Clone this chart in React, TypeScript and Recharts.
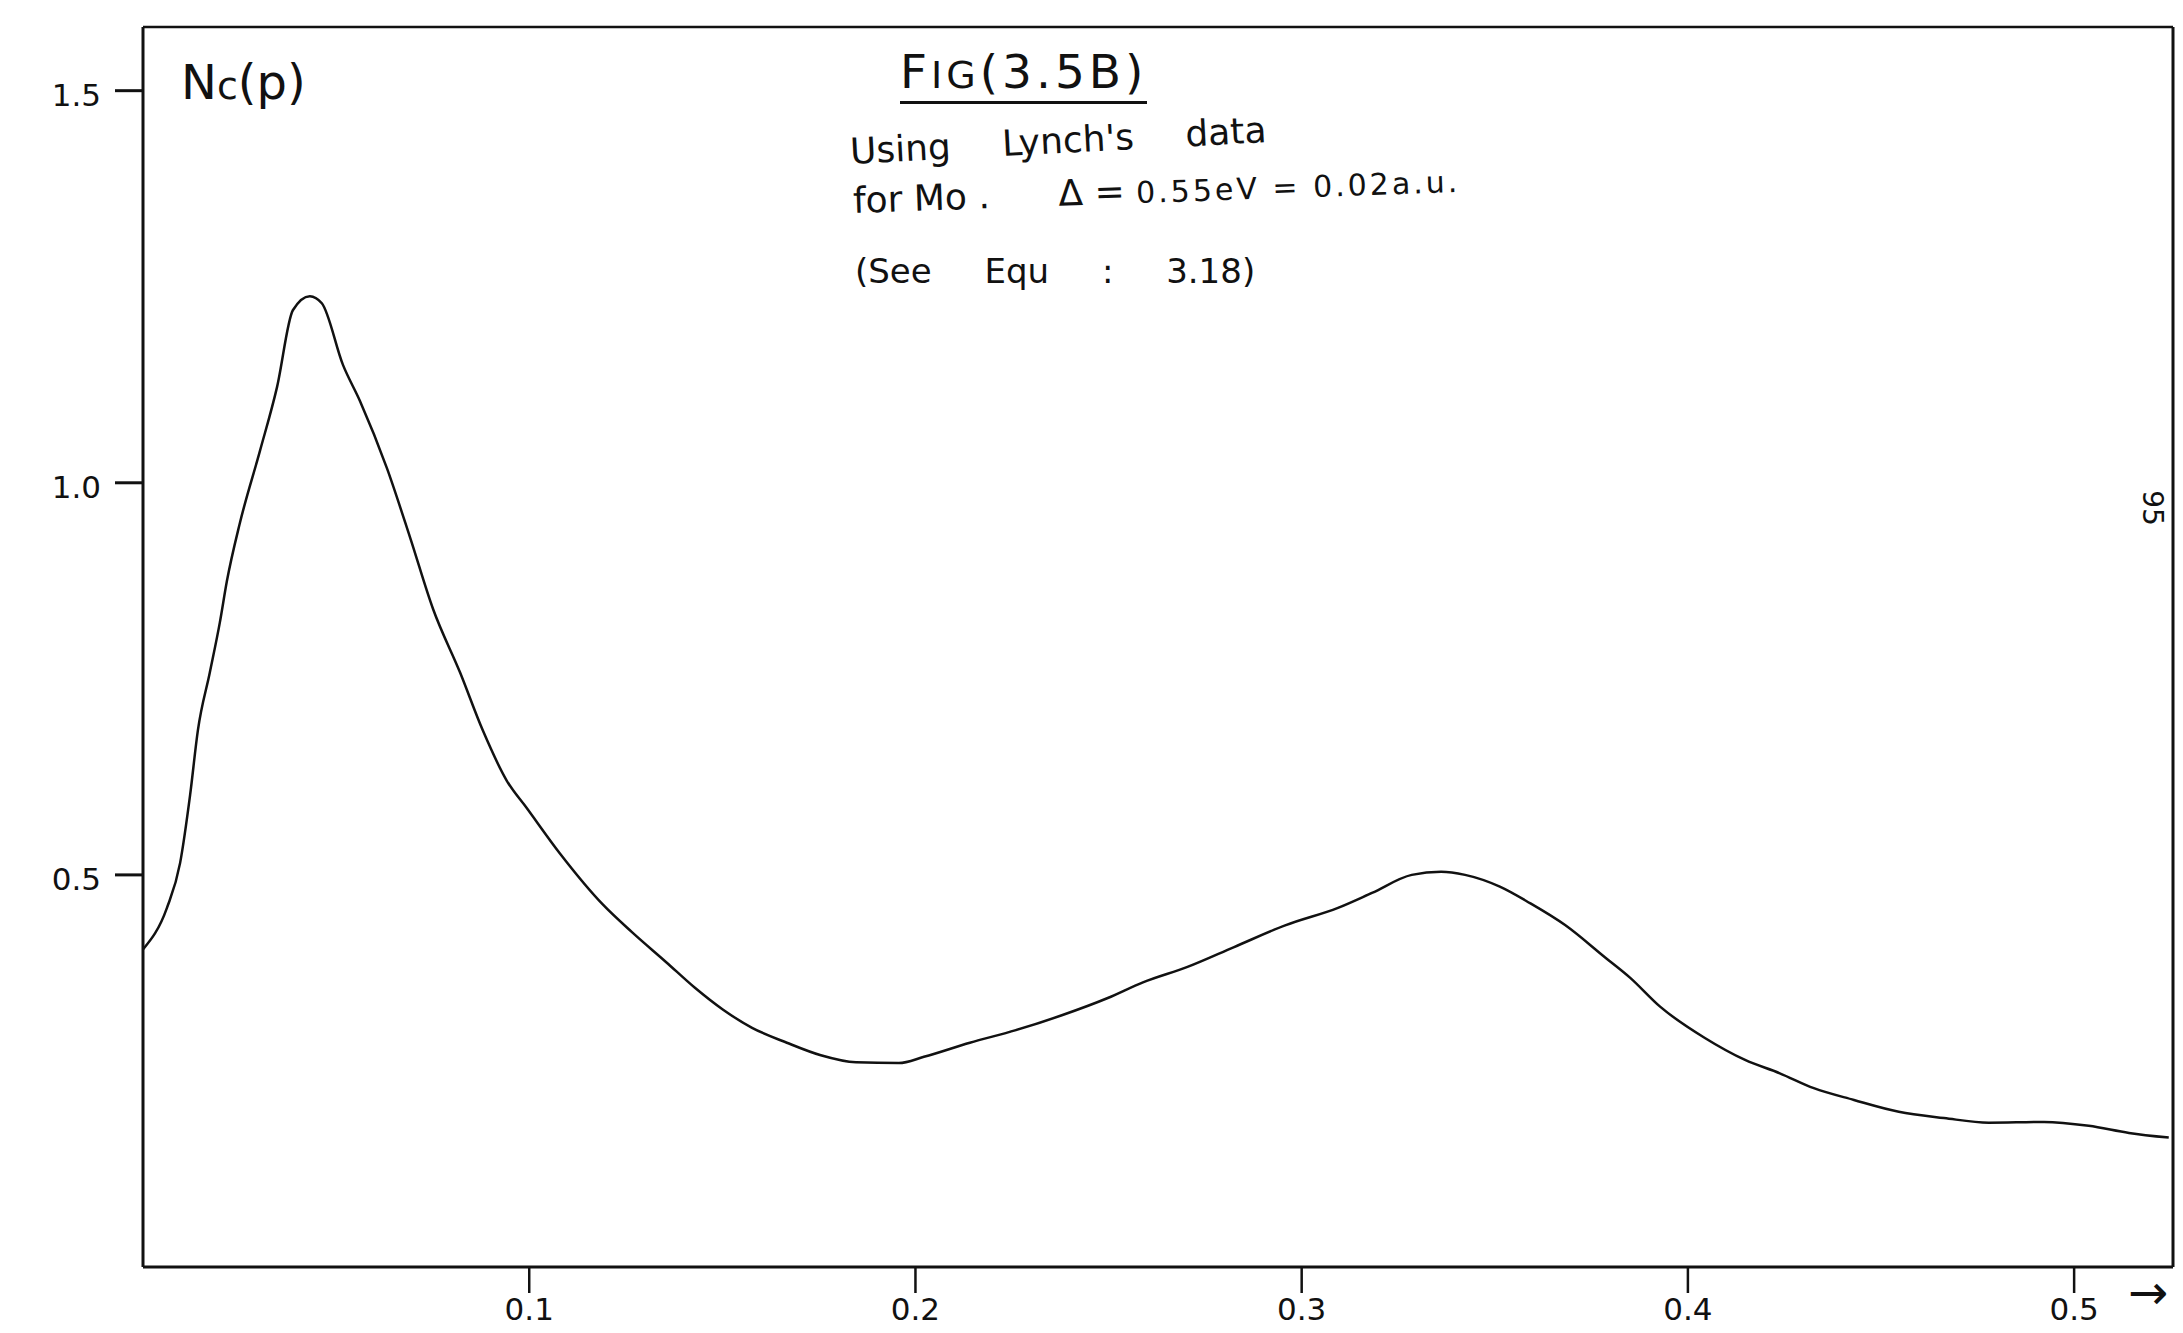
import React from 'react';
import { LineChart, Line, XAxis, YAxis, ReferenceLine } from 'recharts';

// momentum p (a.u.)
const momentum = [
  0, 0.0062, 0.0096, 0.0122, 0.0142, 0.0173, 0.0199, 0.0217, 0.0251, 0.0303,
  0.0347, 0.0388, 0.0432, 0.0463, 0.0518, 0.0562, 0.0632, 0.0691, 0.0751, 0.0821,
  0.088, 0.0942, 0.0994, 0.108, 0.1191, 0.1266, 0.1354, 0.1429, 0.1502, 0.1577,
  0.1667, 0.1755, 0.1846, 0.1957, 0.2022, 0.2141, 0.226, 0.2379, 0.2498, 0.2589,
  0.2706, 0.2825, 0.2959, 0.3094, 0.3182, 0.3285, 0.3361, 0.3423, 0.3513, 0.3591,
  0.3682, 0.3785, 0.385, 0.3928, 0.4044, 0.4148, 0.4238, 0.4326, 0.443, 0.4546,
  0.4663, 0.4779, 0.4922, 0.5038, 0.5142, 0.5245,
];

// Nc(p)
const ncValues = [
  0.405, 0.458, 0.515, 0.602, 0.684, 0.758, 0.822, 0.874, 0.949, 1.041,
  1.122, 1.22, 1.238, 1.229, 1.15, 1.104, 1.018, 0.931, 0.839, 0.758,
  0.684, 0.62, 0.585, 0.527, 0.462, 0.427, 0.389, 0.356, 0.328, 0.305,
  0.286, 0.27, 0.261, 0.26, 0.268, 0.286, 0.302, 0.321, 0.343, 0.363,
  0.383, 0.408, 0.436, 0.458, 0.477, 0.5, 0.504, 0.5, 0.485, 0.464,
  0.436, 0.395, 0.369, 0.332, 0.292, 0.264, 0.247, 0.228, 0.213, 0.198,
  0.19, 0.184, 0.185, 0.18, 0.171, 0.165,
];

const xTicks = [0.1, 0.2, 0.3, 0.4, 0.5];
const xTickLabels = ['0.1', '0.2', '0.3', '0.4', '0.5'];
const yTicks = [0.5, 1.0, 1.5];
const yTickLabels = ['0.5', '1.0', '1.5'];

const X_MAX = 0.5256;
const Y_MAX = 1.5812;
const INK = '#111';
const FONT = '"DejaVu Sans", sans-serif';

const data = momentum.map((p, i) => ({ p, nc: ncValues[i] }));

const XTick = ({ x, y, payload }: any) => (
  <text x={x} y={y} dy={14} textAnchor="middle" dominantBaseline="central"
    fontSize={31} fill={INK} fontFamily={FONT}>
    {xTickLabels[xTicks.indexOf(payload.value)] ?? payload.value}
  </text>
);

const YTick = ({ x, y, payload }: any) => (
  <text x={x} y={y} dy={4} textAnchor="end" dominantBaseline="central"
    fontSize={31} fill={INK} fontFamily={FONT}>
    {yTickLabels[yTicks.indexOf(payload.value)] ?? payload.value}
  </text>
);

export default function App() {
  return (
    <div style={{ position: 'absolute', left: 0, top: 0, width: 2183, height: 1333, background: '#fff', fontFamily: FONT, color: INK }}>
      <LineChart
        width={2183}
        height={1333}
        data={data}
        margin={{ top: 27, right: 10, bottom: 16, left: 43 }}
      >
        <XAxis
          dataKey="p"
          type="number"
          domain={[0, X_MAX]}
          allowDataOverflow
          ticks={xTicks}
          tick={<XTick />}
          tickSize={26}
          tickMargin={2}
          height={50}
          axisLine={{ stroke: INK, strokeWidth: 3 }}
          tickLine={{ stroke: INK, strokeWidth: 2.5 }}
        />
        <YAxis
          type="number"
          domain={[0, Y_MAX]}
          allowDataOverflow
          ticks={yTicks}
          tick={<YTick />}
          tickSize={28}
          tickMargin={14}
          width={100}
          axisLine={{ stroke: INK, strokeWidth: 3 }}
          tickLine={{ stroke: INK, strokeWidth: 3 }}
        />
        <ReferenceLine y={Y_MAX} stroke={INK} strokeWidth={2.5} />
        <ReferenceLine x={X_MAX} stroke={INK} strokeWidth={3} />
        <Line
          type="monotone"
          dataKey="nc"
          stroke={INK}
          strokeWidth={2.5}
          dot={false}
          activeDot={false}
          isAnimationActive={false}
        />
      </LineChart>

      {/* hand-written annotations */}
      <div style={{ position: 'absolute', left: 181, top: 58, fontSize: 48, lineHeight: 1 }}>
        N<span style={{ fontSize: 38 }}>c</span>(p)
      </div>
      <div style={{ position: 'absolute', left: 900, top: 48, fontSize: 47, lineHeight: 1, letterSpacing: 4, borderBottom: `3px solid ${INK}`, paddingBottom: 6 }}>
        F<span style={{ fontSize: 38 }}>IG</span>(3.5B)
      </div>
      <div style={{ position: 'absolute', left: 850, top: 134, fontSize: 36, lineHeight: 1, wordSpacing: 40, transform: 'rotate(-3deg)', transformOrigin: 'left center', whiteSpace: 'nowrap' }}>
        Using Lynch's data
      </div>
      <div style={{ position: 'absolute', left: 853, top: 183, fontSize: 36, lineHeight: 1, transform: 'rotate(-2deg)', transformOrigin: 'left center', whiteSpace: 'nowrap' }}>
        for Mo .&nbsp;&nbsp;&nbsp;&nbsp;&nbsp; Δ = <span style={{ fontSize: 30, letterSpacing: 3 }}>0.55eV = 0.02a.u.</span>
      </div>
      <div style={{ position: 'absolute', left: 855, top: 254, fontSize: 34, lineHeight: 1, wordSpacing: 42, whiteSpace: 'nowrap' }}>
        (See Equ : 3.18)
      </div>
      <div style={{ position: 'absolute', left: 2134, top: 494, fontSize: 28, lineHeight: 1, transform: 'rotate(90deg)' }}>
        95
      </div>
      <div style={{ position: 'absolute', left: 2128, top: 1268, fontSize: 48, lineHeight: 1 }}>
        →
      </div>
    </div>
  );
}
